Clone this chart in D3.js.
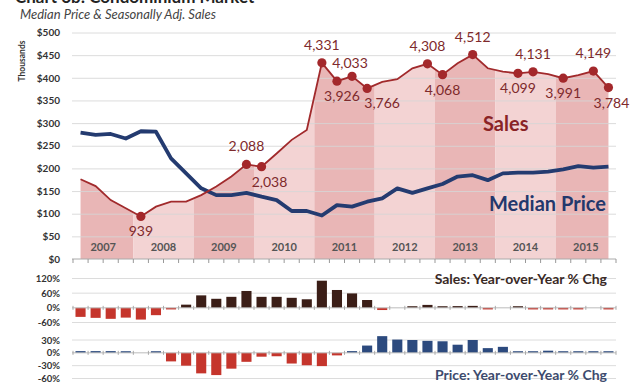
<!DOCTYPE html>
<html>
<head>
<meta charset="utf-8">
<script src="https://cdn.jsdelivr.net/npm/d3@7"></script>
<style>
  body { margin: 0; background: #fff; }
  svg { display: block; }
  text { font-family: Lato, "Open Sans", "DejaVu Sans", sans-serif; }
</style>
</head>
<body>
<svg id="chart" width="630" height="384"></svg>
<script>
// Quarterly condominium market data, 2007 Q1 – 2015 Q4
const years = [2007, 2008, 2009, 2010, 2011, 2012, 2013, 2014, 2015];
const quarters = years.flatMap(y => ["Q1", "Q2", "Q3", "Q4"].map(q => `${y}${q}`));

// Seasonally adjusted sales (units)
const sales = [1760, 1610, 1300, 1120, 939, 1155, 1265, 1265,
               1410, 1600, 1820, 2088, 2038, 2330, 2630, 2850,
               4331, 3926, 4033, 3766, 3910, 3970, 4210, 4308,
               4068, 4320, 4512, 4210, 4135, 4099, 4131, 4080,
               3991, 4060, 4149, 3784];

// Median price ($ thousands)
const medianPrice = [279, 274, 276, 266, 282, 281, 222, 189,
                     156, 141, 141, 146, 137.5, 130, 106, 106,
                     96, 119, 115.5, 126.5, 134, 156, 146, 156,
                     165.5, 182, 185, 174, 189, 190.5, 190.5, 193,
                     198, 205, 201.5, 204];

// Year-over-year % change
const salesYoY = [-37, -41, -45, -40, -48, -30, -4, 13,
                  51, 37, 45, 69, 45, 45, 41, 35,
                  111, 73, 59, 32, -9, 0, 3, 12,
                  0.5, 7, 8, -3, 0, 2, -6, -3,
                  -3, -3, 0, -6];
const priceYoY = [4, 4, 4, 1, 0, 1, -20, -30,
                  -48, -52, -37, -21, -9, -8, -25, -29,
                  -31, -6, 4, 17, 39, 31, 30, 28,
                  27, 19, 30, 11, 14, 3, 1, 5,
                  3, 3, 3, 3];

// Axis ticks
const priceTicks = [0, 50, 100, 150, 200, 250, 300, 350, 400, 450, 500];
const salesPctTicks = [120, 60, 0, -60];
const pricePctTicks = [30, 0, -30, -60];

// Quarters whose sales values are annotated, and which of them sit below the point
const labeledSales = [4, 11, 12, 16, 17, 18, 19, 23, 24, 26, 29, 30, 32, 34, 35];
const labelsBelow = [4, 12, 17, 19, 24, 29, 32, 35];

const svg = d3.select("#chart");
const left = 72, right = 616;

const x = d3.scaleBand().domain(quarters).range([73, 616])
  .paddingInner(0.33).paddingOuter(0.165);
const step = x.step();
const cx = q => x(q) + x.bandwidth() / 2;
const boundary = i => i < quarters.length
  ? x(quarters[i]) - step * x.paddingInner() / 2
  : x(quarters[quarters.length - 1]) + x.bandwidth() + step * x.paddingInner() / 2;

const y = d3.scaleLinear().domain([0, 500]).range([259, 32.5]);
const ySales = d3.scaleLinear().domain([0, 5000]).range([259, 32.5]);

// ---- Title ----
svg.append("text").attr("x", 15).attr("y", 3)
  .attr("font-size", 17).attr("font-weight", 700).attr("fill", "#222")
  .text("Chart 6b: Condominium Market");
svg.append("text").attr("x", 20).attr("y", 19)
  .attr("font-size", 13).attr("font-style", "italic").attr("fill", "#444")
  .text("Median Price & Seasonally Adj. Sales");

// ---- Sales area with alternating year shading ----
const area = d3.area()
  .x((d, i) => cx(quarters[i]))
  .y0(y(0))
  .y1(d => ySales(d));

svg.append("clipPath").attr("id", "salesArea")
  .append("path").attr("d", area(sales));

const bands = svg.append("g").attr("clip-path", "url(#salesArea)");
years.forEach((yr, k) => {
  bands.append("rect")
    .attr("x", boundary(4 * k)).attr("width", boundary(4 * k + 4) - boundary(4 * k))
    .attr("y", y(500)).attr("height", y(0) - y(500))
    .attr("fill", k % 2 === 0 ? "#e9b6b6" : "#f3d3d3");
});

// ---- Gridlines and price axis ----
const yAxis = d3.axisLeft(y).tickValues(priceTicks).tickSize(0).tickPadding(12)
  .tickFormat(d => "$" + d);
const gy = svg.append("g").attr("transform", `translate(${left},0)`).call(yAxis);
gy.select(".domain").remove();
gy.selectAll("text").attr("font-size", 10).attr("font-weight", 700).attr("fill", "#333")
  .attr("font-family", "Lato, sans-serif");

const grid = d3.axisLeft(y).tickValues(priceTicks.filter(d => d > 0))
  .tickSize(-(right - left)).tickFormat("");
const gg = svg.append("g").attr("transform", `translate(${left},0)`).call(grid);
gg.select(".domain").remove();
gg.selectAll("line").attr("stroke", "#d6d6d6").attr("stroke-width", 1).attr("opacity", 0.85);

svg.append("text")
  .attr("transform", "translate(25,61) rotate(-90)")
  .attr("text-anchor", "middle").attr("font-size", 8.5).attr("font-weight", 700).attr("fill", "#333")
  .text("Thousands");

// Year labels
years.forEach((yr, k) => {
  svg.append("text")
    .attr("x", (boundary(4 * k) + boundary(4 * k + 4)) / 2).attr("y", 250.5)
    .attr("text-anchor", "middle").attr("font-size", 11).attr("font-weight", 700)
    .attr("fill", "#555").text(yr);
});

// X axis with quarter ticks
svg.append("line").attr("x1", left).attr("x2", right).attr("y1", y(0)).attr("y2", y(0))
  .attr("stroke", "#aaa");
d3.range(quarters.length + 1).forEach(i => {
  svg.append("line").attr("x1", boundary(i)).attr("x2", boundary(i))
    .attr("y1", y(0)).attr("y2", y(0) + 4).attr("stroke", "#999");
});

// ---- Median price line ----
svg.append("path")
  .datum(medianPrice)
  .attr("fill", "none").attr("stroke", "#243b70").attr("stroke-width", 3.8)
  .attr("stroke-linejoin", "round")
  .attr("d", d3.line().x((d, i) => cx(quarters[i])).y(d => y(d)));

// ---- Sales line, markers and value labels ----
svg.append("path")
  .datum(sales)
  .attr("fill", "none").attr("stroke", "#a12a2c").attr("stroke-width", 1.8)
  .attr("d", d3.line().x((d, i) => cx(quarters[i])).y(d => ySales(d)));

const labelShift = { 12: 8, 17: 5, 18: -2, 19: 15, 35: 3 };
labeledSales.forEach(i => {
  const px = cx(quarters[i]), py = ySales(sales[i]);
  svg.append("circle").attr("cx", px).attr("cy", py).attr("r", 4.6).attr("fill", "#a3282b");
  const below = labelsBelow.includes(i);
  const dy = below ? 20 : (i === 18 ? -8 : -13);
  svg.append("text")
    .attr("x", px + (labelShift[i] || 0)).attr("y", py + dy)
    .attr("text-anchor", "middle").attr("font-size", 14).attr("fill", "#7e2a2c")
    .text(d3.format(",")(sales[i]));
});

svg.append("text").attr("x", 483).attr("y", 131)
  .attr("font-size", 20).attr("font-weight", 700).attr("fill", "#8a2326").text("Sales");
svg.append("text").attr("x", 489).attr("y", 210.5)
  .attr("font-size", 20).attr("font-weight", 700).attr("fill", "#23386c").text("Median Price");

// ---- Year-over-year panels ----
function yoyPanel(values, domain, rangePx, ticks, posColor, title, titleY, titleColor) {
  const yp = d3.scaleLinear().domain(domain).range(rangePx);
  const g = svg.append("g");
  ticks.filter(t => t !== 0).forEach(t => {
    g.append("line").attr("x1", left).attr("x2", right).attr("y1", yp(t)).attr("y2", yp(t))
      .attr("stroke", "#dcdcdc");
  });
  const ax = d3.axisLeft(yp).tickValues(ticks).tickSize(0).tickPadding(12).tickFormat(d => d + "%");
  const ga = g.append("g").attr("transform", `translate(${left},0)`).call(ax);
  ga.select(".domain").remove();
  ga.selectAll("text").attr("font-size", 9.5).attr("font-weight", 700).attr("fill", "#333")
    .attr("font-family", "Lato, sans-serif");

  const barH = d => Math.max(Math.abs(yp(d) - yp(0)), d === 0 ? 0 : 1.6);
  g.selectAll("rect.bar").data(values).join("rect")
    .attr("x", (d, i) => x(quarters[i]))
    .attr("width", x.bandwidth())
    .attr("y", d => d >= 0 ? yp(0) - barH(d) : yp(0))
    .attr("height", barH)
    .attr("fill", d => d >= 0 ? posColor : "#c5352c");

  g.append("line").attr("x1", left).attr("x2", right).attr("y1", yp(0)).attr("y2", yp(0))
    .attr("stroke", "#bbb");
  d3.range(quarters.length + 1).forEach(i => {
    g.append("line").attr("x1", boundary(i)).attr("x2", boundary(i))
      .attr("y1", yp(0) - 2).attr("y2", yp(0) + 2).attr("stroke", "#aaa");
  });

  svg.append("text").attr("x", 607).attr("y", titleY).attr("text-anchor", "end")
    .attr("font-size", 14).attr("font-weight", 700).attr("fill", titleColor).text(title);
}

yoyPanel(salesYoY, [-60, 120], [322.5, 278.5], salesPctTicks, "#3b1e17",
  "Sales: Year-over-Year % Chg", 284, "#3a2a26");
yoyPanel(priceYoY, [-60, 30], [378.5, 340], pricePctTicks, "#2c4a7e",
  "Price: Year-over-Year % Chg", 380, "#3d4b6e");
</script>
</body>
</html>
